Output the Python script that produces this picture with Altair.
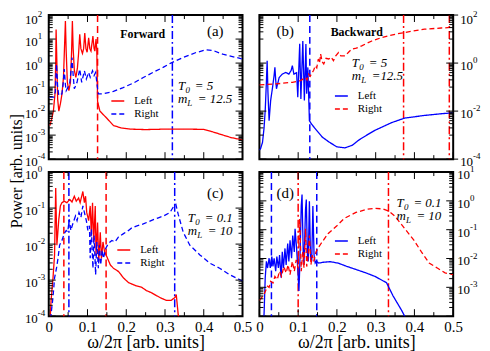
import math
import altair as alt
import pandas as pd

FONT = "Liberation Serif"
RED = "#ff0000"
BLUE = "#0000ff"
W, H = 195, 145

# ---------------- data: (omega/2pi, log10 of power) ----------------
a_left = [(0.003, -2.6), (0.008, -2.3), (0.012, -2.0), (0.016, -1.3), (0.018, 0.0), (0.019, 1.4),
          (0.021, 0.0), (0.023, -1.5), (0.026, -2.0), (0.030, -1.7), (0.034, -1.3), (0.038, -0.6),
          (0.041, 0.8), (0.043, 1.75), (0.045, 0.5), (0.048, -0.8), (0.052, -1.15), (0.056, -0.8),
          (0.059, 0.5), (0.061, 1.75), (0.063, 0.6), (0.066, -0.3), (0.070, -0.6), (0.074, -0.2),
          (0.077, 0.4), (0.080, 1.2), (0.083, 0.6), (0.087, 0.4), (0.090, 0.6), (0.093, 1.25),
          (0.096, 0.6), (0.099, 0.45), (0.103, 1.05), (0.106, 0.6), (0.109, 0.5), (0.114, 1.12),
          (0.117, 0.6), (0.119, 0.5), (0.122, 1.0), (0.124, 0.55), (0.126, -1.6), (0.132, -2.0),
          (0.150, -2.3), (0.167, -2.6), (0.187, -2.7), (0.210, -2.75), (0.250, -2.77), (0.300, -2.75),
          (0.350, -2.75), (0.400, -2.76), (0.420, -2.85), (0.450, -3.0), (0.470, -3.1), (0.500, -3.2)]
a_right = [(0.002, -1.42), (0.013, -1.42), (0.017, -1.2), (0.020, -0.04), (0.023, -1.0), (0.026, -1.35),
           (0.034, -1.28), (0.037, -0.9), (0.040, -0.25), (0.043, -0.9), (0.045, -1.15), (0.054, -0.87),
           (0.057, -0.4), (0.060, 0.23), (0.063, -0.5), (0.066, -1.07), (0.073, -0.8), (0.080, -0.25),
           (0.085, -0.8), (0.092, -0.32), (0.097, -0.66), (0.103, -0.39), (0.107, -0.59), (0.113, -0.32),
           (0.117, -0.52), (0.121, -0.39), (0.124, -0.8), (0.128, -1.28), (0.141, -1.28), (0.167, -1.18),
           (0.192, -1.02), (0.220, -0.82), (0.244, -0.6), (0.270, -0.38), (0.295, -0.18), (0.315, 0.0),
           (0.346, 0.23), (0.380, 0.44), (0.406, 0.55), (0.423, 0.53), (0.449, 0.37), (0.474, 0.27),
           (0.498, 0.18)]
a_vdash = [0.126]
a_vdashdot = [0.319]

b_left = [(0.0, -3.62), (0.003, -3.56), (0.008, -3.3), (0.012, -2.7), (0.015, -1.97), (0.018, -0.8),
          (0.020, 0.1), (0.022, -1.2), (0.025, -2.4), (0.029, -1.56), (0.034, -1.0), (0.038, -0.5),
          (0.040, -0.18), (0.042, -0.7), (0.044, -1.07), (0.051, -0.6), (0.059, -0.46), (0.068, -0.39),
          (0.076, -0.46), (0.082, -0.3), (0.085, -0.11), (0.089, -0.46), (0.096, -0.4), (0.099, -1.42),
          (0.104, 0.8), (0.107, -1.49), (0.112, 0.92), (0.116, -1.56), (0.120, 0.79), (0.122, -1.28),
          (0.125, -0.18), (0.129, -2.4), (0.135, -2.55), (0.144, -2.73), (0.162, -3.08), (0.179, -3.28),
          (0.200, -3.49), (0.221, -3.53), (0.240, -3.42), (0.256, -3.21), (0.277, -3.0), (0.298, -2.8),
          (0.341, -2.48), (0.375, -2.29), (0.426, -2.18), (0.469, -2.11), (0.500, -2.07)]
b_right = [(0.0, -0.91), (0.042, -0.87), (0.085, -0.8), (0.106, -0.73), (0.119, -0.6), (0.123, -0.7),
           (0.127, -0.46), (0.131, -0.55), (0.136, -0.4), (0.140, -0.3), (0.144, -0.11), (0.148, -0.2),
           (0.152, 0.17), (0.155, 0.0), (0.158, 0.37), (0.162, 0.05), (0.166, -0.04), (0.172, 0.2),
           (0.179, 0.17), (0.185, 0.25), (0.191, 0.1), (0.197, 0.3), (0.204, 0.44), (0.210, 0.3),
           (0.221, 0.3), (0.230, 0.45), (0.238, 0.58), (0.250, 0.62), (0.264, 0.72), (0.290, 0.92),
           (0.315, 1.06), (0.350, 1.2), (0.384, 1.3), (0.426, 1.41), (0.469, 1.46), (0.500, 1.49)]
b_vdash = [0.13]
b_vdashdot = [0.372, 0.49]

c_left = [(0.003, -4.2), (0.006, -3.57), (0.011, -2.94), (0.015, -2.3), (0.018, -0.44), (0.021, -2.03),
          (0.026, -1.31), (0.030, -0.94), (0.034, -0.85), (0.040, -0.81), (0.047, -0.85), (0.054, -0.76),
          (0.060, -0.83), (0.066, -0.67), (0.071, -0.81), (0.077, -0.72), (0.081, -0.85), (0.088, -0.54),
          (0.092, -0.85), (0.095, -0.67), (0.098, -1.12), (0.103, -1.35), (0.107, -0.94), (0.110, -1.76),
          (0.113, -0.85), (0.116, -1.94), (0.120, -0.94), (0.122, -2.3), (0.126, -1.4), (0.129, -2.49),
          (0.133, -1.67), (0.136, -2.4), (0.140, -1.94), (0.144, -2.21), (0.150, -2.35), (0.159, -2.58),
          (0.167, -2.67), (0.180, -2.76), (0.193, -2.94), (0.206, -3.07), (0.226, -3.16), (0.240, -3.2),
          (0.252, -3.29), (0.265, -3.35), (0.278, -3.43), (0.290, -3.5), (0.303, -3.56), (0.316, -3.56),
          (0.326, -3.48), (0.329, -3.4), (0.334, -3.95), (0.338, -4.3)]
c_right = [(0.004, -4.3), (0.006, -3.94), (0.011, -3.48), (0.015, -2.94), (0.020, -2.67), (0.024, -2.39),
           (0.028, -2.03), (0.034, -1.9), (0.040, -1.71), (0.045, -1.62), (0.049, -1.66), (0.053, -1.31),
           (0.057, -1.62), (0.062, -1.44), (0.069, -1.22), (0.073, -1.35), (0.078, -1.12), (0.083, -1.26),
           (0.088, -0.94), (0.092, -1.12), (0.097, -1.35), (0.101, -1.62), (0.105, -1.49), (0.107, -2.39),
           (0.110, -1.58), (0.114, -2.67), (0.117, -1.76), (0.121, -2.85), (0.124, -1.94), (0.128, -2.67),
           (0.131, -2.03), (0.134, -2.58), (0.138, -2.16), (0.141, -2.4), (0.147, -2.12), (0.154, -1.98),
           (0.163, -1.9), (0.171, -1.94), (0.180, -1.8), (0.193, -1.71), (0.206, -1.62), (0.214, -1.55),
           (0.226, -1.5), (0.244, -1.44), (0.257, -1.38), (0.270, -1.32), (0.283, -1.27), (0.296, -1.22),
           (0.313, -1.12), (0.323, -0.94), (0.328, -0.9), (0.334, -1.17), (0.347, -1.67), (0.364, -2.03),
           (0.390, -2.3), (0.416, -2.53), (0.441, -2.67), (0.467, -2.85), (0.497, -3.01), (0.500, -3.02)]
c_vdash = [0.039, 0.148]
c_vdashdot = [0.052, 0.325]

d_left = [(0.010, -4.3), (0.012, -3.92), (0.015, -2.67), (0.018, -2.1), (0.021, -2.33), (0.025, -1.99),
          (0.028, -2.33), (0.032, -1.93), (0.035, -2.27), (0.038, -1.99), (0.042, -2.44), (0.045, -1.93),
          (0.049, -2.33), (0.052, -1.88), (0.056, -2.67), (0.059, -1.77), (0.062, -2.33), (0.066, -1.65),
          (0.069, -2.22), (0.073, -1.48), (0.076, -2.1), (0.079, -1.37), (0.083, -1.99), (0.086, -1.2),
          (0.090, -1.77), (0.092, -0.97), (0.096, -1.65), (0.099, -2.33), (0.102, -3.13), (0.104, -2.33),
          (0.108, -0.18), (0.110, 0.22), (0.113, -1.77), (0.115, -2.22), (0.119, -0.29), (0.121, 0.05),
          (0.124, -1.99), (0.126, -2.1), (0.129, -0.01), (0.132, -1.99), (0.135, -2.1), (0.138, -0.18),
          (0.141, -1.88), (0.144, -2.16), (0.147, -2.1), (0.153, -2.16), (0.165, -2.13), (0.183, -2.11),
          (0.203, -2.16), (0.225, -2.27), (0.251, -2.39), (0.275, -2.5), (0.298, -2.62), (0.328, -2.84),
          (0.345, -3.3), (0.367, -3.8), (0.375, -4.01), (0.380, -4.3)]
d_right = [(0.0, -3.45), (0.003, -3.41), (0.012, -3.24), (0.021, -2.96), (0.025, -3.0), (0.029, -2.79),
           (0.035, -2.85), (0.040, -2.62), (0.046, -2.73), (0.052, -2.44), (0.057, -2.62), (0.063, -2.28),
           (0.069, -2.5), (0.074, -2.22), (0.079, -2.56), (0.085, -2.1), (0.090, -2.44), (0.095, -2.05),
           (0.100, -2.33), (0.104, -0.63), (0.108, -2.44), (0.112, -1.77), (0.115, -2.33), (0.119, -0.97),
           (0.122, -2.28), (0.126, -1.88), (0.129, -1.2), (0.133, -2.22), (0.136, -1.88), (0.140, -2.1),
           (0.146, -1.77), (0.151, -1.65), (0.159, -1.48), (0.177, -1.14), (0.200, -0.86), (0.219, -0.61),
           (0.249, -0.4), (0.279, -0.29), (0.299, -0.26), (0.319, -0.28), (0.333, -0.35), (0.349, -0.52),
           (0.369, -0.86), (0.399, -1.37), (0.418, -1.77), (0.438, -2.16), (0.459, -2.33), (0.479, -2.5),
           (0.500, -2.56)]
d_vdash = [0.031, 0.148]
d_vdashdot = [0.1, 0.333]

# ---------------- tick values ----------------
XMAJ = [0.0, 0.1, 0.2, 0.3, 0.4, 0.5]
XMIN = [0.05, 0.15, 0.25, 0.35, 0.45]
ONE = pd.DataFrame({"k": [0]})


def dec(lo, hi):
    return [10.0 ** e for e in range(lo, hi + 1)]


def minors(exps, ms=range(2, 10)):
    return [m * 10.0 ** e for e in exps for m in ms]


def txt(s, x, y, size=13, style="normal", weight="normal", align="left", angle=0):
    return alt.Chart(ONE).mark_text(text=s, fontSize=size, font=FONT, fontStyle=style,
                                    fontWeight=weight, align=align, baseline="middle", angle=angle,
                                    color="black").encode(x=alt.value(x), y=alt.value(y))


def sub_txt(base, sub, rest, x, y):
    bw = 7.5 if base == "T" else 9.5
    eq = 17 if base == "T" else 20
    return [txt(base, x, y, 13, "italic"), txt(sub, x + bw, y + 4, 9, "italic"),
            txt(rest, x + eq, y, 13, "italic")]


def panel(left, right, c_left, c_right, vdash, vdashdot, ydom, ylabels, ymaj, ymin, side,
          xlab, leg, texts, top_row, outward=False):
    df = pd.concat([
        pd.DataFrame({"x": [p[0] for p in left], "p": [10.0 ** p[1] for p in left], "s": "Left"}),
        pd.DataFrame({"x": [p[0] for p in right], "p": [10.0 ** p[1] for p in right], "s": "Right"}),
    ], ignore_index=True)
    xs = alt.Scale(domain=[0, 0.5], nice=False, zero=False)
    ys = alt.Scale(type="log", domain=ydom, nice=False)

    if xlab:
        xa = alt.Axis(orient="bottom", values=XMAJ, format="~g", ticks=False, tickSize=0, domain=False,
                      labelPadding=3, labelFontSize=15, labelFlush=False, labelOverlap=False,
                      title="\u03c9/2\u03c0 [arb. units]", titleFontSize=18, titlePadding=0)
    else:
        xa = None

    legend = alt.Legend(orient="none", legendX=leg[0], legendY=leg[1], title=None, labelFont=FONT,
                        labelFontSize=11, labelColor="black", symbolType="stroke", symbolSize=169,
                        symbolStrokeWidth=1.5, labelOffset=9, rowPadding=0, padding=0)
    main = alt.Chart(df).mark_line(clip=True, strokeWidth=1.3).encode(
        x=alt.X("x:Q", scale=xs, axis=xa),
        y=alt.Y("p:Q", scale=ys, axis=None),
        color=alt.Color("s:N", scale=alt.Scale(domain=["Left", "Right"], range=[c_left, c_right]),
                        legend=legend),
        strokeDash=alt.StrokeDash("s:N", scale=alt.Scale(domain=["Left", "Right"], range=[[1, 0], [5, 3]]),
                                  legend=legend),
    )

    def yt(values, x0, x1):
        return alt.Chart(pd.DataFrame({"v": values})).mark_rule(color="black", strokeWidth=1).encode(
            y=alt.Y("v:Q", scale=ys, axis=None), x=alt.value(x0), x2=alt.value(x1))

    def xt(values, y0, y1):
        return alt.Chart(pd.DataFrame({"v": values})).mark_rule(color="black", strokeWidth=1).encode(
            x=alt.X("v:Q", scale=xs, axis=None), y=alt.value(y0), y2=alt.value(y1))

    ticks = [yt(ymaj, 0, 7), yt(ymin, 0, 4), yt(ymaj, W - 7, W), yt(ymin, W - 4, W),
             xt(XMAJ, H - 7, H), xt(XMIN, H - 4, H), xt(XMAJ, 0, 7), xt(XMIN, 0, 4)]
    if outward:
        ticks.append(yt(ylabels, W, W + 5))

    # y tick labels: "10" plus a raised exponent
    if side == "left":
        xb, xe, ab = -11, -11, "right"
    else:
        xb = W + (7 if outward else 4)
        xe, ab = xb + 13, "left"

    def ylab(values, dy):
        d = pd.DataFrame({"v": values,
                          "e": [str(int(round(math.log10(v)))) for v in values]})
        base = alt.Chart(d).mark_text(text="10", font=FONT, fontSize=13, align=ab, baseline="middle",
                                      dy=dy, color="black").encode(
            y=alt.Y("v:Q", scale=ys, axis=None), x=alt.value(xb))
        expo = alt.Chart(d).mark_text(font=FONT, fontSize=9, align="left", baseline="middle",
                                      dy=dy - 6, color="black").encode(
            y=alt.Y("v:Q", scale=ys, axis=None), x=alt.value(xe), text="e:N")
        return [base, expo]

    top_lab = [v for v in ylabels if v >= ydom[1] * 0.99]
    rest_lab = [v for v in ylabels if v < ydom[1] * 0.99]
    labs = ylab(rest_lab, 3) + (ylab(top_lab, 5 if top_row else 3) if top_lab else [])

    r1 = alt.Chart(pd.DataFrame({"x": vdash})).mark_rule(color=c_left, strokeDash=[7, 4], strokeWidth=1.5).encode(
        x=alt.X("x:Q", scale=xs, axis=None))
    r2 = alt.Chart(pd.DataFrame({"x": vdashdot})).mark_rule(color=c_right, strokeDash=[8, 3, 2, 3],
                                                             strokeWidth=1.5).encode(
        x=alt.X("x:Q", scale=xs, axis=None))

    return alt.layer(r1, r2, main, *ticks, *labs, *texts).resolve_axis(
        x="independent", y="independent").properties(width=W, height=H)


pa = panel(a_left, a_right, RED, BLUE, a_vdash, a_vdashdot, [1e-4, 1e2], dec(-4, 2), dec(-4, 2),
           minors(range(-4, 2)), "left", False, (62, 79),
           [txt("Forward", 94.5, 19, 12, weight="bold", align="center"),
            txt("(a)", 167.5, 16, 15, align="center"),
            txt("Power [arb. units]", -32, 157, 16, align="center", angle=270)]
           + sub_txt("T", "0", "= 5", 130, 71) + sub_txt("m", "L", "= 12.5", 130, 85),
           top_row=True)
pb = panel(b_left, b_right, BLUE, RED, b_vdash, b_vdashdot, [1e-4, 1e2], [1e-4, 1e-2, 1.0, 1e2],
           [1e-4, 1e-2, 1.0, 1e2], minors([-3, -1, 1], range(1, 10)), "right", False, (75, 74),
           [txt("Backward", 98, 17, 12, weight="bold", align="center"),
            txt("(b)", 26, 16, 15, align="center")]
           + sub_txt("T", "0", "= 5", 93, 48) + sub_txt("m", "L", "=12.5", 93, 61),
           top_row=True, outward=True)
pc = panel(c_left, c_right, RED, BLUE, c_vdash, c_vdashdot, [1e-4, 1.0], dec(-4, 0), dec(-4, 0),
           minors(range(-4, 0)), "left", True, (68, 71),
           [txt("(c)", 167.5, 21, 15, align="center")]
           + sub_txt("T", "0", "= 0.1", 140, 46) + sub_txt("m", "L", "= 10", 140, 59),
           top_row=False)
pd_ = panel(d_left, d_right, BLUE, RED, d_vdash, d_vdashdot, [1e-4, 10.0], dec(-3, 1), dec(-4, 1),
            minors(range(-4, 1)), "right", True, (75, 62),
            [txt("(d)", 26, 21, 15, align="center")]
            + sub_txt("T", "0", "= 0.1", 138, 31) + sub_txt("m", "L", "= 10", 138, 44),
            top_row=False)

chart = alt.concat(pa, pb, pc, pd_, columns=2, spacing={"row": 13, "column": 17}, bounds="flush").resolve_scale(
    color="independent", strokeDash="independent").properties(
    padding={"left": 0, "top": 0, "right": 0, "bottom": 0}
).configure(font=FONT).configure_view(stroke="black", strokeWidth=2).configure_axis(
    labelColor="black", titleColor="black", labelFont=FONT, titleFont=FONT, titleFontWeight="normal",
    grid=False)

chart.save("out.html", embed_options={"renderer": "svg", "actions": False})
